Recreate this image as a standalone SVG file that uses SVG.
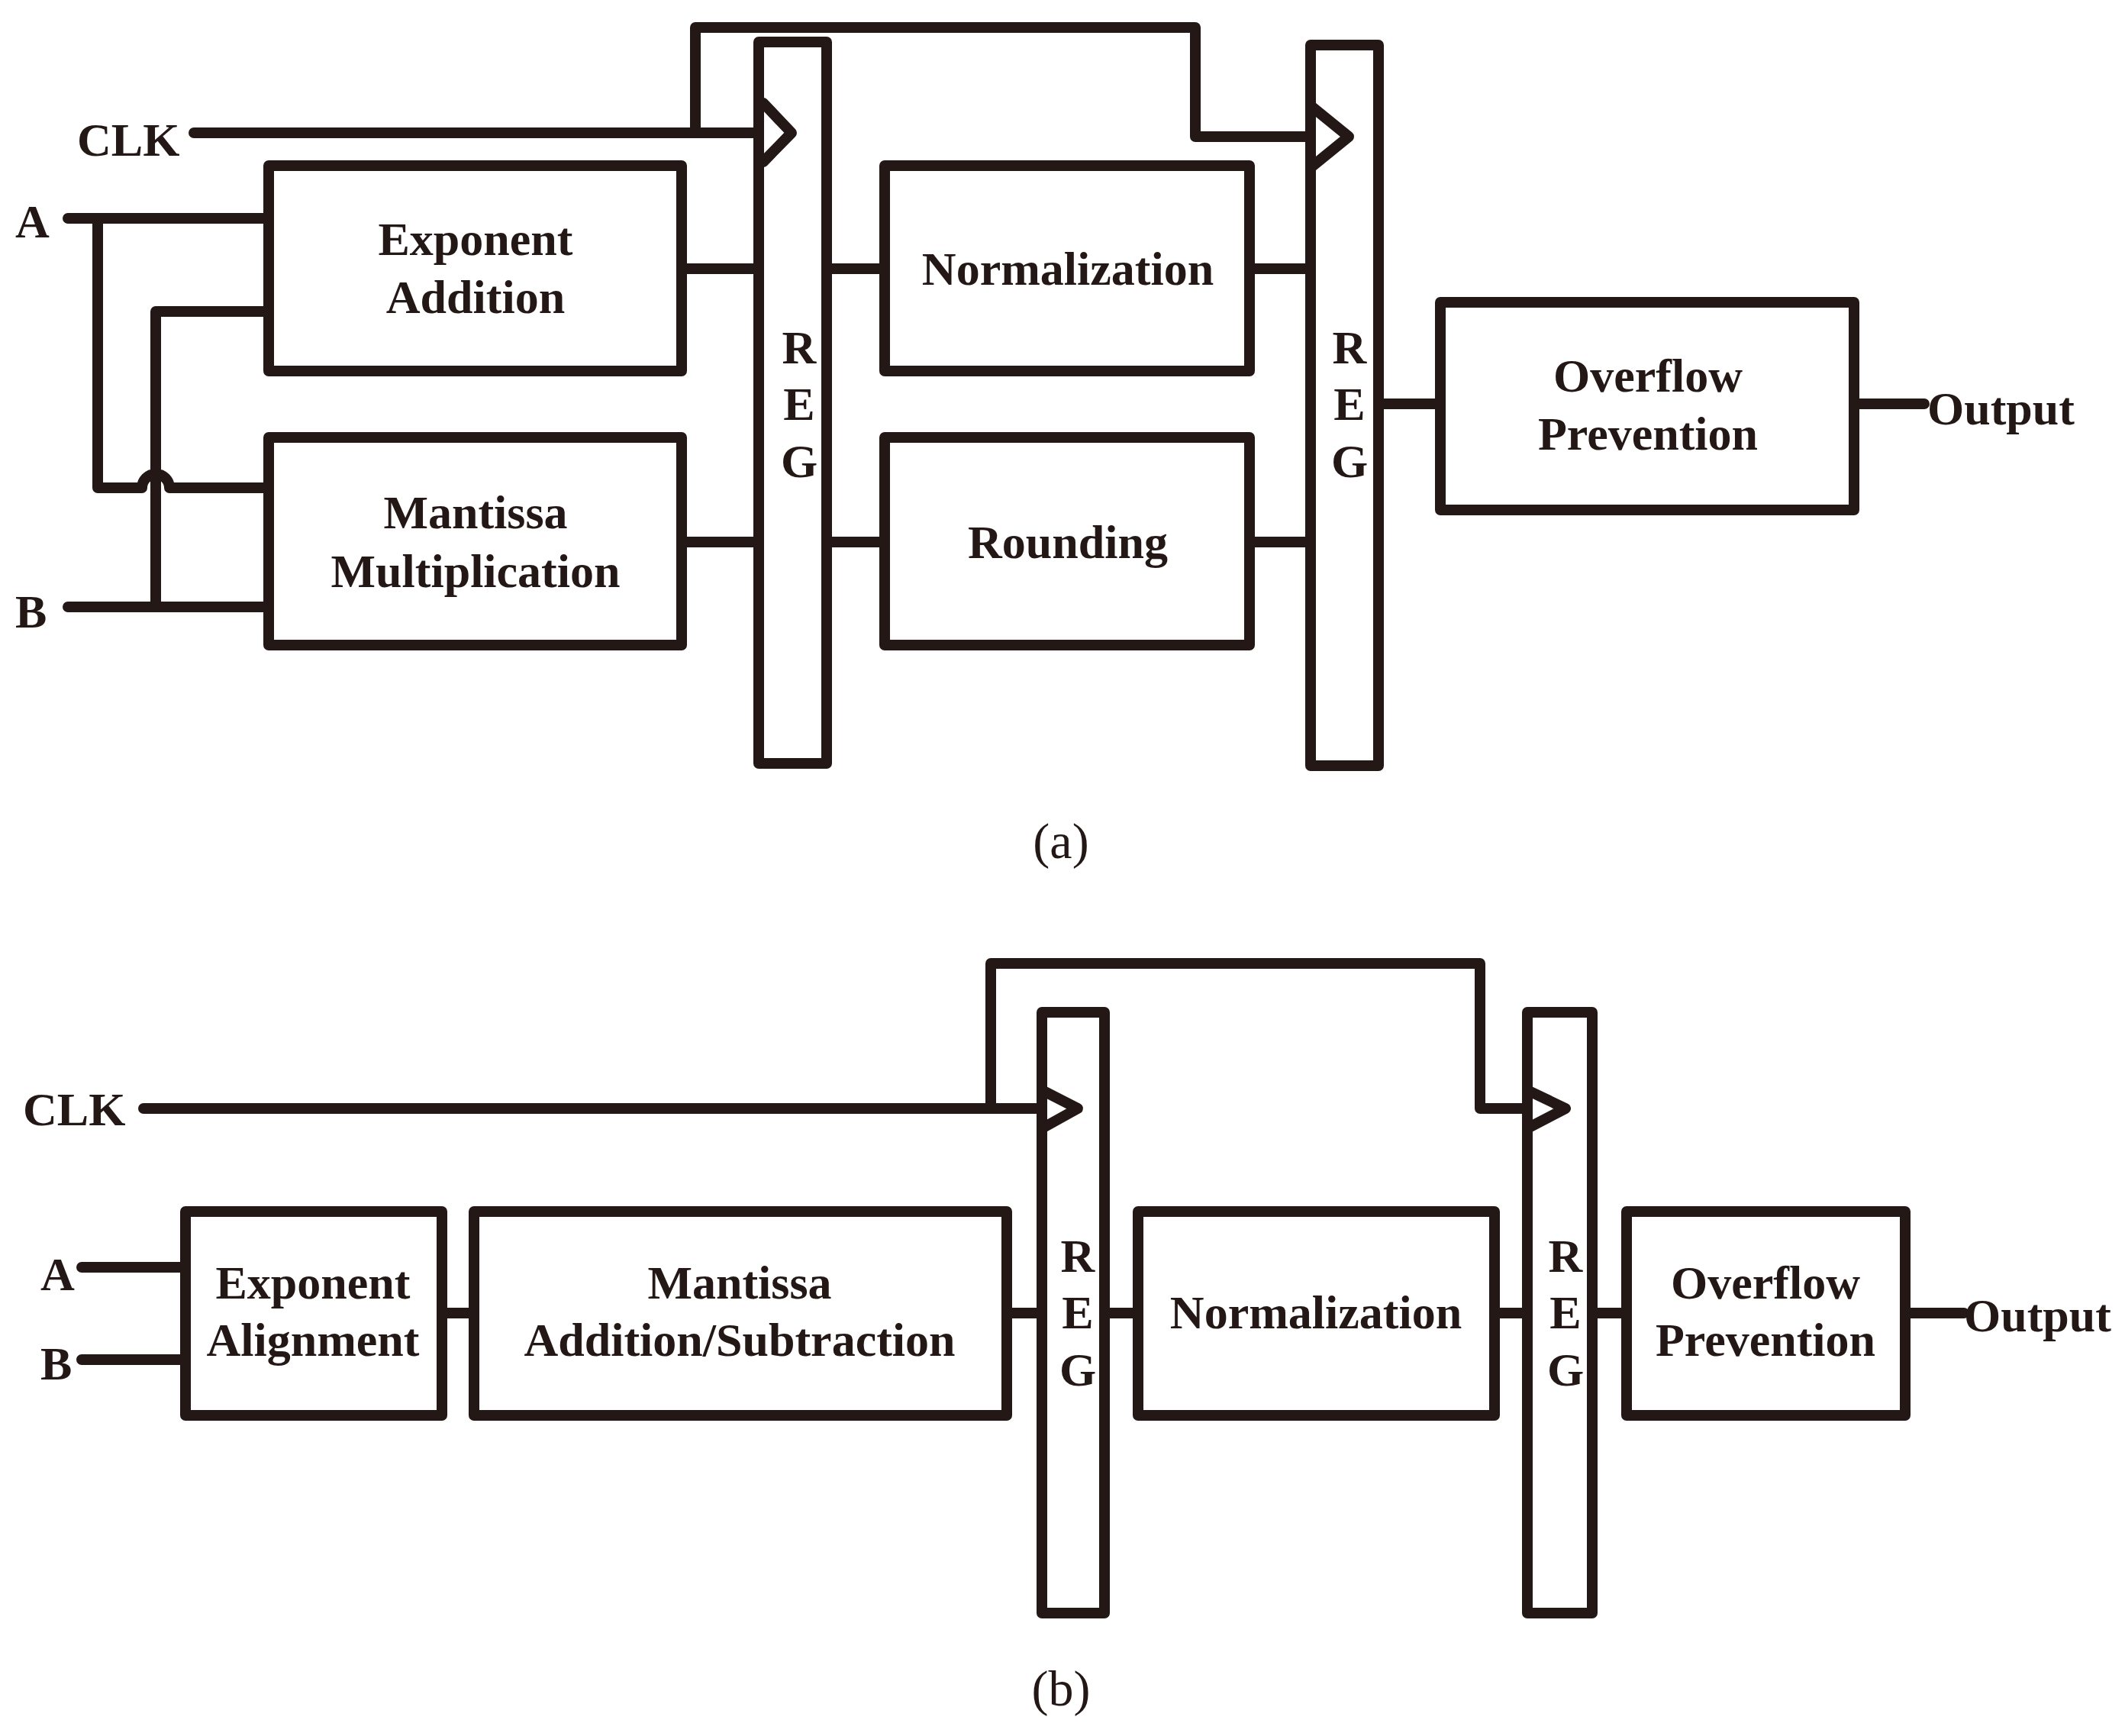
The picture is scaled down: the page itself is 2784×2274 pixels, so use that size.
<svg xmlns="http://www.w3.org/2000/svg" width="2784" height="2274" viewBox="0 0 2784 2274">
<style>
.b{fill:#fff;stroke:#231815;stroke-width:14;stroke-linejoin:round}
.w{fill:none;stroke:#231815;stroke-width:14;stroke-linecap:round;stroke-linejoin:round}
.t{font-family:"Liberation Serif",serif;font-weight:bold;font-size:62px;fill:#231815;text-anchor:middle}
.l{font-family:"Liberation Serif",serif;font-weight:bold;font-size:62px;fill:#231815}
.c{font-family:"Liberation Serif",serif;font-size:66px;fill:#231815;text-anchor:middle}
</style>
<rect width="2784" height="2274" fill="#fff"/>
<g id="connectors">
<path class="w" d="M254 174H1000M911 174V36H1566V179H1717"/>
<path class="w" d="M1000 135L1037 174L1000 212M1719 140L1767 179L1719 218"/>
<path class="w" d="M89 286H352M128 286V639H186A18 18 0 0 1 222 639H352M89 795H352M204 795V408H352"/>
<path class="w" d="M893 352H994M893 710H994M1083 352H1159M1083 710H1159M1637 352H1717M1637 710H1717M1806 529H1887M2429 529H2521"/>
<path class="w" d="M188 1452H1365M1298 1452V1262H1939V1452H2001"/>
<path class="w" d="M1367 1429L1412 1452L1367 1477M2003 1429L2051 1452L2003 1477"/>
<path class="w" d="M107 1660H243M107 1781H243M579 1720H621M1319 1720H1365M1447 1720H1491M1958 1720H2001M2086 1720H2131M2496 1720H2573"/>
</g>
<g id="clk-a"><text class="l" x="101" y="204">CLK</text></g>
<g id="A-a"><text class="l" x="20" y="311" font-size="66">A</text></g>
<g id="B-a"><text class="l" x="20" y="822" font-size="66">B</text></g>
<g id="exp-add"><rect class="b" x="352" y="217" width="541" height="269"/><text class="t" x="623" y="334">Exponent</text><text class="t" x="623" y="410">Addition</text></g>
<g id="mant-mul"><rect class="b" x="352" y="573" width="541" height="272"/><text class="t" x="623" y="692">Mantissa</text><text class="t" x="623" y="769">Multiplication</text></g>
<g id="reg1"><rect class="b" x="994" y="55" width="89" height="945"/><text class="t" x="1047" y="476">R</text><text class="t" x="1047" y="550">E</text><text class="t" x="1047" y="625">G</text></g>
<path class="w" d="M1000 135L1037 174L1000 212"/>
<g id="norm-a"><rect class="b" x="1159" y="217" width="478" height="269"/><text class="t" x="1399" y="373">Normalization</text></g>
<g id="round"><rect class="b" x="1159" y="573" width="478" height="272"/><text class="t" x="1399" y="731">Rounding</text></g>
<g id="reg2"><rect class="b" x="1717" y="59" width="89" height="944"/><text class="t" x="1768" y="476">R</text><text class="t" x="1768" y="550">E</text><text class="t" x="1768" y="625">G</text></g>
<path class="w" d="M1719 140L1767 179L1719 218"/>
<g id="ovf-a"><rect class="b" x="1887" y="396" width="542" height="272"/><text class="t" x="2159" y="513">Overflow</text><text class="t" x="2159" y="589">Prevention</text></g>
<g id="out-a"><text class="l" x="2525" y="556" font-size="75">Output</text></g>
<g id="cap-a"><text class="c" x="1390" y="1124">(a)</text></g>
<g id="clk-b"><text class="l" x="30" y="1474">CLK</text></g>
<g id="A-b"><text class="l" x="53" y="1690">A</text></g>
<g id="B-b"><text class="l" x="53" y="1807">B</text></g>
<g id="exp-align"><rect class="b" x="243" y="1587" width="336" height="267"/><text class="t" x="410" y="1701">Exponent</text><text class="t" x="410" y="1776">Alignment</text></g>
<g id="mant-add"><rect class="b" x="621" y="1587" width="698" height="267"/><text class="t" x="969" y="1701">Mantissa</text><text class="t" x="969" y="1776">Addition/Subtraction</text></g>
<g id="reg3"><rect class="b" x="1365" y="1326" width="82" height="787"/><text class="t" x="1412" y="1666">R</text><text class="t" x="1412" y="1740">E</text><text class="t" x="1412" y="1815">G</text></g>
<path class="w" d="M1367 1429L1412 1452L1367 1477"/>
<g id="norm-b"><rect class="b" x="1491" y="1587" width="467" height="267"/><text class="t" x="1724" y="1740">Normalization</text></g>
<g id="reg4"><rect class="b" x="2001" y="1326" width="85" height="787"/><text class="t" x="2051" y="1666">R</text><text class="t" x="2051" y="1740">E</text><text class="t" x="2051" y="1815">G</text></g>
<path class="w" d="M2003 1429L2051 1452L2003 1477"/>
<g id="ovf-b"><rect class="b" x="2131" y="1587" width="365" height="267"/><text class="t" x="2313" y="1701">Overflow</text><text class="t" x="2313" y="1776">Prevention</text></g>
<g id="out-b"><text class="l" x="2573" y="1744" font-size="59">Output</text></g>
<g id="cap-b"><text class="c" x="1390" y="2234">(b)</text></g>
</svg>
